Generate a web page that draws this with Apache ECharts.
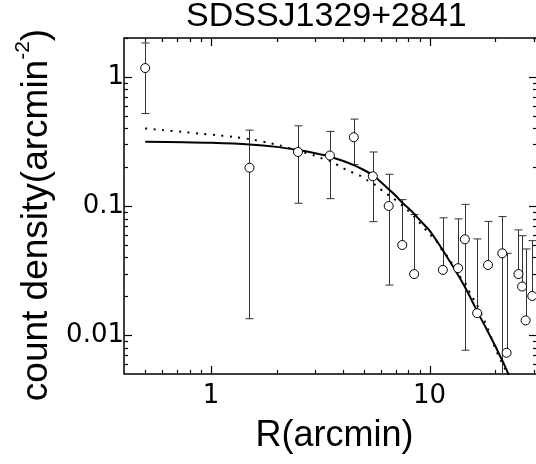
<!DOCTYPE html>
<html><head><meta charset="utf-8">
<script src="https://cdn.jsdelivr.net/npm/echarts@6/dist/echarts.min.js"></script>
<style>html,body{margin:0;padding:0;background:#fff}#c{width:536px;height:464px}</style>
</head><body><div id="c"></div>
<script>
// ---- data ----
const radius  = [0.5, 1.5, 2.5, 3.5, 4.5, 5.5, 6.5, 7.5, 8.5, 11.5, 13.5, 14.5, 16.5, 18.5, 21.5, 22.5, 25.5, 26.5, 27.5, 29.5];
const density = [1.17, 0.198, 0.262, 0.246, 0.341, 0.170, 0.100, 0.0499, 0.0297, 0.032, 0.033, 0.0552, 0.0148, 0.0349, 0.0430, 0.0073, 0.0297, 0.0238, 0.0130, 0.0201];
const errHigh = [1.83, 0.387, 0.418, 0.378, 0.471, 0.262, 0.176, 0.112, 0.0859, 0.081, 0.0795, 0.103, 0.0556, 0.076, 0.0828, 0.043, 0.0653, 0.0589, 0.0465, 0.0539];
const errLow  = [0.52, 0.0134, 0.105, 0.114, 0.209, 0.0757, 0.0244, null, null, null, null, 0.00764, null, null, 0.003, null, null, null, null, null];

const solidR = [0.5, 0.75, 1, 1.5, 2, 2.5, 3, 3.5, 4, 4.5, 5, 5.5, 6, 6.5, 7, 7.5, 8, 8.5, 9, 10, 11, 12, 13, 14, 15, 16, 17, 18, 19, 20, 21, 22, 23, 24];
const solidY = [0.314, 0.312, 0.309, 0.300, 0.287, 0.271, 0.256, 0.241, 0.224, 0.207, 0.190, 0.173, 0.153, 0.135, 0.120, 0.106, 0.096, 0.087, 0.078, 0.0645, 0.051, 0.0405, 0.0325, 0.0262, 0.0212, 0.0170, 0.0139, 0.0116, 0.0097, 0.0082, 0.0069, 0.00586, 0.00493, 0.00423];

const dotR = [0.5, 0.6, 0.75, 0.9, 1.05, 1.27, 1.55, 1.88, 2.05, 2.5, 3.0, 3.23, 3.6, 3.93, 4.3, 4.8, 5.2, 5.7, 6.2, 6.8, 7.5, 8.5, 9.83, 10.7, 11.4, 12.25, 13.7, 14.7, 15.5, 16.3, 17.7, 18.4, 19.2, 19.9, 20.7, 22, 23.5];
const dotY = [0.399, 0.387, 0.374, 0.363, 0.354, 0.343, 0.327, 0.305, 0.296, 0.268, 0.245, 0.233, 0.219, 0.200, 0.186, 0.172, 0.158, 0.144, 0.128, 0.115, 0.101, 0.083, 0.0625, 0.054, 0.0456, 0.0392, 0.0288, 0.0245, 0.0203, 0.0178, 0.0132, 0.0114, 0.0095, 0.0080, 0.0069, 0.0056, 0.0044];

const xLabelValues = [1, 10];
const xLabelTexts  = ['1', '10'];
const yLabelValues = [0.01, 0.1, 1];
const yLabelTexts  = ['0.01', '0.1', '1'];
const xMajorTicks = [1, 10];
const xMinorTicks = [0.5, 0.6, 0.7, 0.8, 0.9, 2, 3, 4, 5, 6, 7, 8, 9, 20, 30];
const yMajorTicks = [0.01, 0.1, 1];
const yMinorTicks = [0.006, 0.007, 0.008, 0.009, 0.02, 0.03, 0.04, 0.05, 0.06, 0.07, 0.08, 0.09, 0.2, 0.3, 0.4, 0.5, 0.6, 0.7, 0.8, 0.9, 2];

const titleText = 'SDSSJ1329+2841';
const FONT = 'Liberation Sans';
const TICKFONT = 'DejaVu Sans';

function labelFor(values, texts) {
  return function (v) {
    for (let i = 0; i < values.length; i++) {
      if (Math.abs(Math.log10(v) - Math.log10(values[i])) < 1e-6) return texts[i];
    }
    return '';
  };
}

const chart = echarts.init(document.getElementById('c'), null, {renderer: 'canvas'});

const tickData = [];
xMajorTicks.forEach(v => tickData.push([v, 1, 0, 1]));
xMinorTicks.forEach(v => tickData.push([v, 1, 0, 0]));
yMajorTicks.forEach(v => tickData.push([1, v, 1, 1]));
yMinorTicks.forEach(v => tickData.push([1, v, 1, 0]));

chart.setOption({
  animation: false,
  backgroundColor: '#fff',
  title: {
    text: titleText, left: 181, top: -5,
    textStyle: {fontFamily: FONT, fontSize: 34, fontWeight: 'normal', color: '#000'}
  },
  grid: {
    left: 124, top: 38, width: 413, height: 336, outerBoundsMode: 'none',
    show: true, borderColor: '#000', borderWidth: 1.5, backgroundColor: 'transparent'
  },
  xAxis: {
    type: 'log', logBase: 10, min: 0.4, max: 31,
    axisLine: {show: false}, axisTick: {show: false}, splitLine: {show: false}, minorTick: {show: false},
    axisLabel: {fontFamily: TICKFONT, fontSize: 26, color: '#000', margin: 9,
      formatter: labelFor(xLabelValues, xLabelTexts), showMinLabel: false, showMaxLabel: false},
    name: 'R(arcmin)', nameLocation: 'middle', nameGap: 44,
    nameTextStyle: {fontFamily: FONT, fontSize: 36, color: '#000', padding: [0, 0, 0, 8]}
  },
  yAxis: {
    type: 'log', logBase: 10, min: 0.005, max: 2,
    axisLine: {show: false}, axisTick: {show: false}, splitLine: {show: false}, minorTick: {show: false},
    axisLabel: {fontFamily: TICKFONT, fontSize: 26, color: '#000', margin: 0,
      formatter: labelFor(yLabelValues, yLabelTexts), showMinLabel: false, showMaxLabel: false},
    name: '{a|count density(arcmin}{s|-2}{a|)}', nameLocation: 'middle', nameRotate: 90, nameGap: 64,
    nameTextStyle: {
      fontFamily: FONT, color: '#000', padding: [0, 18, 0, 0],
      rich: {
        a: {fontFamily: FONT, fontSize: 37, color: '#000', verticalAlign: 'bottom', lineHeight: 43},
        s: {fontFamily: FONT, fontSize: 21, color: '#000', verticalAlign: 'top', lineHeight: 24}
      }
    }
  },
  series: [
    {
      type: 'custom', name: 'ticks', silent: true, clip: false, z: 5,
      data: tickData,
      renderItem: function (params, api) {
        const cs = params.coordSys;
        const isY = api.value(2) === 1;
        const major = api.value(3) === 1;
        const len = major ? 8 : 4;
        const st = {stroke: '#000', lineWidth: 1.2};
        if (!isY) {
          const p = api.coord([api.value(0), 1]);
          const x = Math.round(p[0]) + 0.5;
          return {type: 'group', children: [
            {type: 'line', shape: {x1: x, y1: cs.y + cs.height, x2: x, y2: cs.y + cs.height - len}, style: st},
            {type: 'line', shape: {x1: x, y1: cs.y, x2: x, y2: cs.y + len}, style: st}
          ]};
        } else {
          const p = api.coord([1, api.value(1)]);
          const y = Math.round(p[1]) + 0.5;
          return {type: 'group', children: [
            {type: 'line', shape: {x1: cs.x, y1: y, x2: cs.x + len, y2: y}, style: st},
            {type: 'line', shape: {x1: cs.x + cs.width, y1: y, x2: cs.x + cs.width - len, y2: y}, style: st}
          ]};
        }
      }
    },
    {
      type: 'custom', name: 'errors', silent: true, clip: true, z: 6,
      data: radius.map((r, i) => [r, density[i]]),
      renderItem: function (params, api) {
        const i = params.dataIndex;
        const x = api.value(0);
        const pc = api.coord([x, api.value(1)]);
        const ph = api.coord([x, errHigh[i]]);
        const px = Math.round(pc[0]) + 0.5;
        const low = errLow[i];
        const pl = low == null ? pc : api.coord([x, low]);
        const st = {stroke: '#333', lineWidth: 1};
        const hw = 4;
        const children = [
          {type: 'line', shape: {x1: px, y1: ph[1], x2: px, y2: pl[1]}, style: st},
          {type: 'line', shape: {x1: px - hw, y1: ph[1], x2: px + hw, y2: ph[1]}, style: st}
        ];
        if (low != null) {
          children.push({type: 'line', shape: {x1: px - hw, y1: pl[1], x2: px + hw, y2: pl[1]}, style: st});
        }
        return {type: 'group', children: children};
      }
    },
    {
      type: 'line', name: 'fit', data: solidR.map((r, i) => [r, solidY[i]]),
      showSymbol: false, smooth: 0.3, clip: true, z: 7,
      lineStyle: {color: '#000', width: 2}
    },
    {
      type: 'line', name: 'fit2', data: dotR.map((r, i) => [r, dotY[i]]),
      showSymbol: false, smooth: 0.3, clip: true, z: 7,
      lineStyle: {color: '#000', width: 2, type: [2, 6.5]}
    },
    {
      type: 'scatter', name: 'data', data: radius.map((r, i) => [r, density[i]]),
      symbol: 'circle', symbolSize: 9, z: 8,
      itemStyle: {color: '#fff', borderColor: '#000', borderWidth: 1, opacity: 1}
    }
  ]
});
</script>
</body></html>
